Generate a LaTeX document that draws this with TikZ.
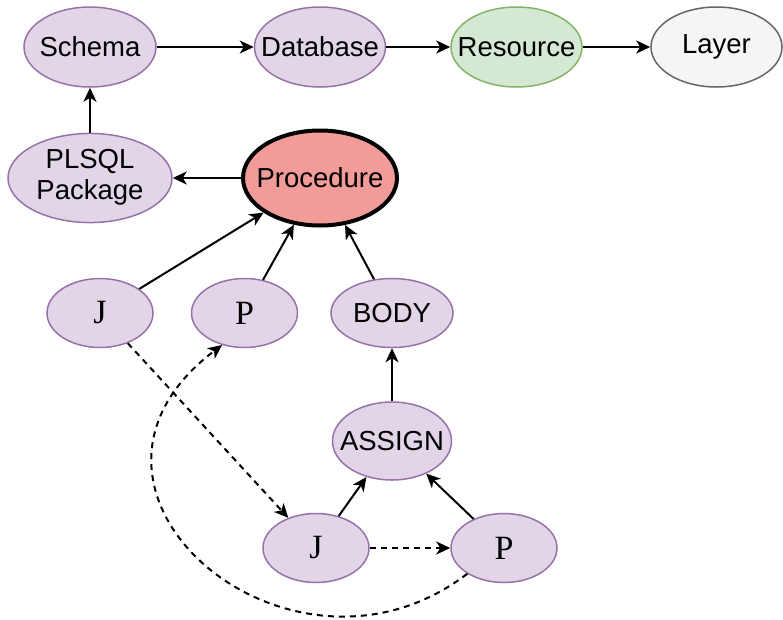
\documentclass[tikz,border=0pt]{standalone}
\usepackage{fontspec}
\setmainfont{Liberation Sans}
\newfontfamily\serifface{Liberation Serif}
\usetikzlibrary{arrows.meta,shapes.geometric}

\definecolor{purplefill}{HTML}{E1D5E7}
\definecolor{purpleline}{HTML}{9673A6}
\definecolor{greenfill}{HTML}{D5E8D4}
\definecolor{greenline}{HTML}{82B366}
\definecolor{grayfill}{HTML}{F5F5F5}
\definecolor{grayline}{HTML}{666666}
\definecolor{redfill}{HTML}{F19C99}

% zero-width label so the ellipse keeps its given size
\newcommand{\lbl}[1]{\makebox[0pt][c]{#1}}

\begin{document}
\begin{tikzpicture}[x=1pt,y=-1pt,
  blob/.style={ellipse, inner sep=0pt, line width=1.5pt,
    font=\fontsize{27.5pt}{32pt}\selectfont},
  purplenode/.style={blob, draw=purpleline, fill=purplefill},
  letternode/.style={purplenode, minimum width=106pt, minimum height=69pt,
    font=\fontsize{34pt}{36pt}\serifface},
  flow/.style={-{Stealth[length=14pt,width=13pt,inset=4pt]}, line width=2pt},
  hint/.style={flow, dash pattern=on 6pt off 5pt}
]
\useasboundingbox (0,0) rectangle (783,619);

% top row
\node[purplenode, minimum width=132pt, minimum height=80pt] (schema) at (90,47) {\lbl{Schema}};
\node[purplenode, minimum width=131pt, minimum height=80pt] (db) at (320,47) {\lbl{Database}};
\node[blob, draw=greenline, fill=greenfill, minimum width=131pt, minimum height=80pt] (res) at (516.5,47) {\lbl{Resource}};
\node[blob, draw=grayline, fill=grayfill, minimum width=131pt, minimum height=80pt] (layer) at (716.5,47) {\lbl{Layer}};

% second row
\node[purplenode, minimum width=164pt, minimum height=88pt] (pkg) at (90,178)
  {\lbl{\begin{tabular}{@{}c@{}}PLSQL\\[-1pt]Package\end{tabular}}};
\node[blob, draw=black, fill=redfill, line width=4pt, minimum width=154pt, minimum height=95pt] (proc) at (320,178) {\lbl{Procedure}};

% third row
\node[letternode] (j1) at (100,313) {\lbl{J}};
\node[letternode] (p1) at (244.5,313) {\lbl{P}};
\node[purplenode, minimum width=122pt, minimum height=69pt] (body) at (392,313) {\lbl{BODY}};

% lower part
\node[purplenode, minimum width=119pt, minimum height=78pt] (assign) at (392,441) {\lbl{ASSIGN}};
\node[letternode] (j2) at (316,548) {\lbl{J}};
\node[letternode] (p2) at (504,548) {\lbl{P}};

% solid connectors
\draw[flow] (schema) -- (db);
\draw[flow] (db) -- (res);
\draw[flow] (res) -- (layer);
\draw[flow] (pkg) -- (schema);
\draw[flow] (proc) -- (pkg);
\draw[flow] (j1) -- (proc);
\draw[flow] (p1) -- (proc);
\draw[flow] (body) -- (proc);
\draw[flow] (assign) -- (body);
\draw[flow] (j2) -- (assign);
\draw[flow] (p2) -- (assign);

% dashed connectors
\draw[hint] (j1) -- (j2);
\draw[hint] (j2) -- (p2);
\draw[hint] (p2.215) .. controls (290,710) and (30,490) .. (p1.235);
\end{tikzpicture}
\end{document}
